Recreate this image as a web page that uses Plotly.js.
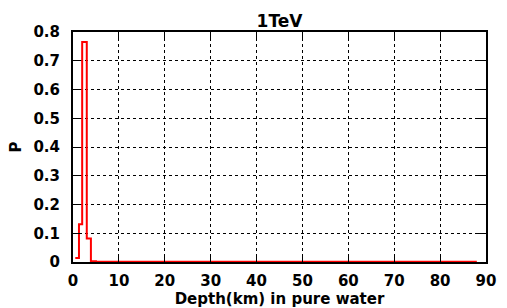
<!DOCTYPE html>
<html>
<head>
<meta charset="utf-8">
<script src="https://cdn.plot.ly/plotly-3.0.1.min.js"></script>
<style>html,body{margin:0;padding:0;background:#fff;}#chart{width:507px;height:308px;}</style>
</head>
<body>
<div id="chart"></div>
<script>
// Step-histogram data (depth in km, probability)
const depthKm = [0.5, 1.3, 2.0, 3.0, 3.9, 5, 10, 20, 30, 40, 50, 60, 70, 80, 88];
const probability = [0.014, 0.131, 0.765, 0.082, 0.003, 0.001, 0.0005, 0.0005, 0.0005, 0.0005, 0.0005, 0.0005, 0.0005, 0.0005, 0.0005];
const xTicks = [0, 10, 20, 30, 40, 50, 60, 70, 80, 90];
const yTicks = [0, 0.1, 0.2, 0.3, 0.4, 0.5, 0.6, 0.7, 0.8];
const yTickText = ['0', '0.1', '0.2', '0.3', '0.4', '0.5', '0.6', '0.7', '0.8'];

const fontFam = 'DejaVu Sans, Liberation Sans, Arial, sans-serif';
const data = [{
  x: depthKm, y: probability, type: 'scatter', mode: 'lines',
  line: {shape: 'hv', color: '#ff0000', width: 2},
  hoverinfo: 'skip'
}];
const layout = {
  width: 507, height: 308,
  margin: {l: 73, r: 21, t: 32, b: 46},
  paper_bgcolor: '#fff', plot_bgcolor: '#fff',
  showlegend: false,
  font: {family: fontFam, color: '#000', size: 15},
  title: {text: '<b>1TeV</b>', x: 0.5, xref: 'paper', xanchor: 'center', y: 0.932, yref: 'container', yanchor: 'middle', font: {size: 17, family: fontFam}},
  xaxis: {
    range: [0, 90], tickvals: xTicks, ticktext: xTicks.map(v => '<b>' + v + '</b>'),
    ticks: 'inside', ticklen: 8, tickwidth: 1, tickcolor: '#000',
    showline: true, linecolor: '#000', linewidth: 2, mirror: 'ticks',
    showgrid: true, gridcolor: '#000', gridwidth: 1, griddash: 'dot',
    zeroline: false, ticklabelstandoff: 4,
    tickfont: {size: 15, family: fontFam},
    title: {text: '<b>Depth(km) in pure water</b>', standoff: 0, font: {size: 15, family: fontFam}}
  },
  yaxis: {
    range: [0, 0.8], tickvals: yTicks, ticktext: yTickText.map(v => '<b>' + v + '</b>'),
    ticks: 'inside', ticklen: 8, tickwidth: 1, tickcolor: '#000',
    showline: true, linecolor: '#000', linewidth: 2, mirror: 'ticks',
    showgrid: true, gridcolor: '#000', gridwidth: 1, griddash: 'dot',
    zeroline: false, ticklabelstandoff: 8,
    tickfont: {size: 15, family: fontFam},
    title: {text: '<b>P</b>', standoff: 8, font: {size: 15, family: fontFam}}
  }
};
Plotly.newPlot('chart', data, layout, {staticPlot: true, displayModeBar: false});
</script>
</body>
</html>
